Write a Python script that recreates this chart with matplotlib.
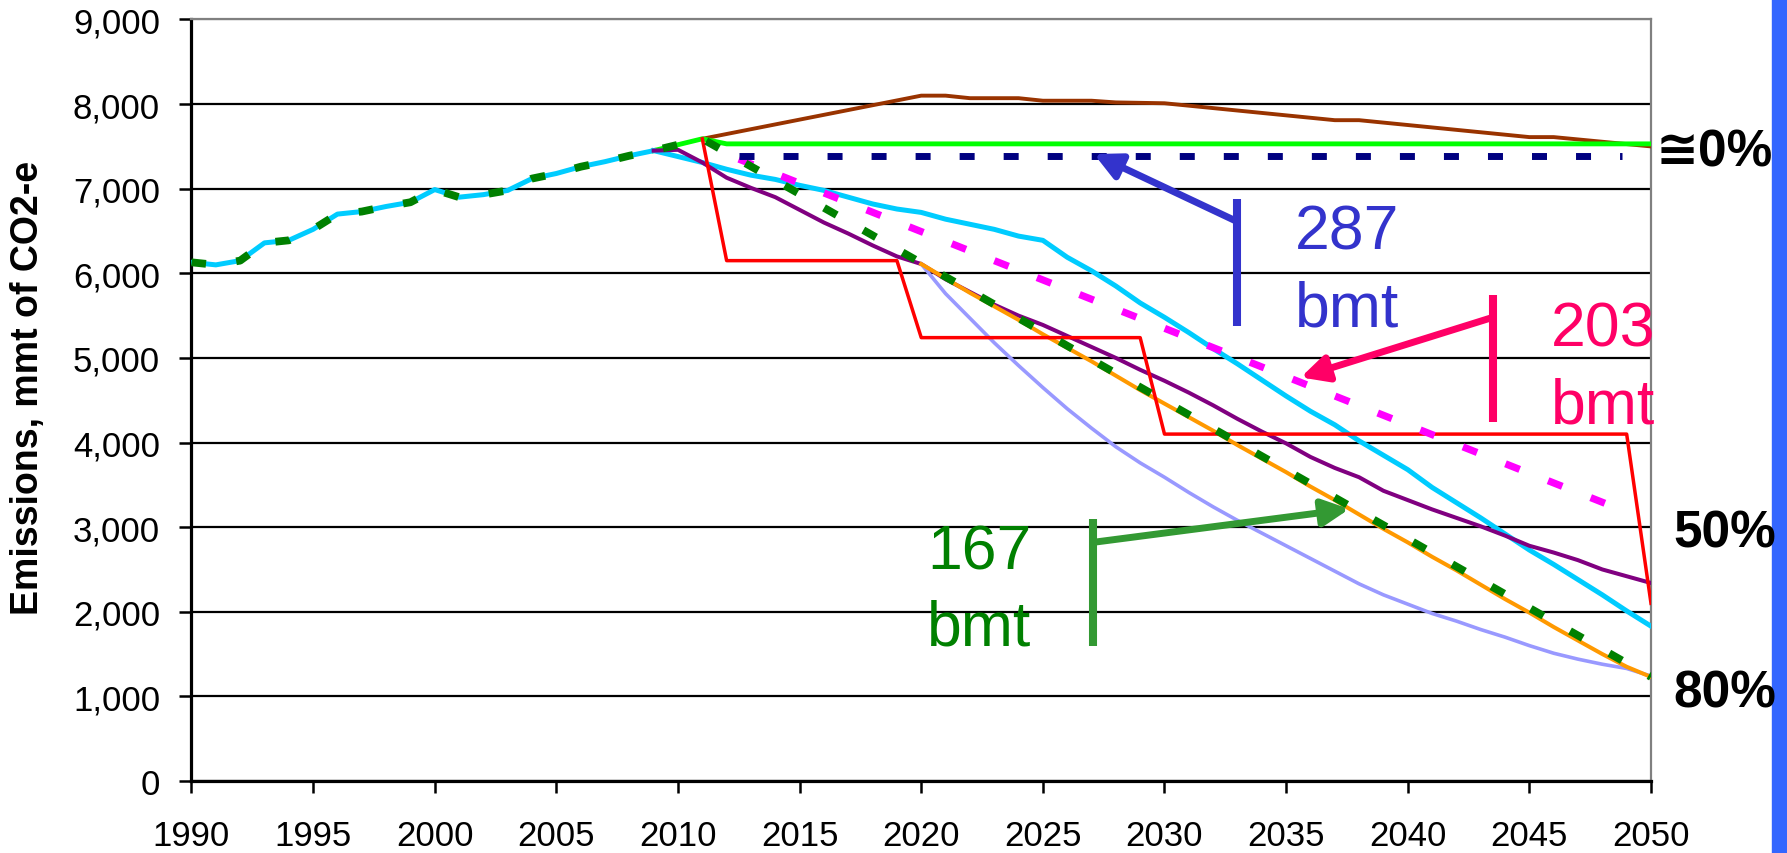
import matplotlib
matplotlib.use("Agg")
import matplotlib.pyplot as plt
from matplotlib.patches import Rectangle
from matplotlib.ticker import FuncFormatter

plt.rcParams['font.family'] = ['Liberation Sans', 'DejaVu Sans']
plt.rcParams['lines.scale_dashes'] = False

# ---------------- data ----------------
hist_years = [1990, 1991, 1992, 1993, 1994, 1995, 1996, 1997, 1998, 1999, 2000,
              2001, 2002, 2003, 2004, 2005, 2006, 2007, 2008, 2009, 2010, 2011]
hist_vals = [6130, 6100, 6150, 6360, 6390, 6520, 6700, 6730, 6790, 6840, 6990,
             6900, 6930, 6980, 7120, 7180, 7260, 7320, 7390, 7450, 7520, 7590]

proj_years = [2009, 2010, 2011, 2012, 2013, 2014, 2015, 2016, 2017, 2018, 2019,
              2020, 2021, 2022, 2023, 2024, 2025, 2026, 2027, 2028, 2029, 2030,
              2031, 2032, 2033, 2034, 2035, 2036, 2037, 2038, 2039, 2040, 2041,
              2042, 2043, 2044, 2045, 2046, 2047, 2048, 2049, 2050]
cyan_vals = [7450, 7380, 7310, 7230, 7160, 7110, 7040, 6980, 6900, 6820, 6760,
             6720, 6640, 6580, 6520, 6440, 6390, 6190, 6030, 5850, 5650, 5480,
             5300, 5110, 4930, 4740, 4550, 4370, 4210, 4020, 3850, 3680, 3470,
             3290, 3110, 2920, 2730, 2560, 2380, 2200, 2010, 1830]
purple_vals = [7450, 7460, 7310, 7130, 7010, 6900, 6750, 6600, 6470, 6330, 6200,
               6110, 5930, 5780, 5630, 5500, 5390, 5260, 5130, 5000, 4860, 4730,
               4590, 4440, 4280, 4130, 3990, 3830, 3700, 3590, 3430, 3320, 3210,
               3110, 3010, 2900, 2780, 2700, 2610, 2500, 2420, 2340]

late_years = [2020, 2021, 2022, 2023, 2024, 2025, 2026, 2027, 2028, 2029, 2030,
              2031, 2032, 2033, 2034, 2035, 2036, 2037, 2038, 2039, 2040, 2041,
              2042, 2043, 2044, 2045, 2046, 2047, 2048, 2049, 2050]
orange_vals = [6110, 5940, 5770, 5610, 5450, 5280, 5120, 4960, 4790, 4620, 4460,
               4300, 4140, 3970, 3810, 3650, 3480, 3320, 3150, 2980, 2820, 2650,
               2490, 2320, 2150, 1990, 1820, 1660, 1500, 1350, 1230]
lavender_vals = [6110, 5760, 5470, 5180, 4910, 4650, 4400, 4170, 3950, 3760, 3590,
                 3410, 3240, 3080, 2930, 2780, 2630, 2480, 2330, 2200, 2090, 1980,
                 1890, 1790, 1700, 1600, 1510, 1440, 1380, 1330, 1240]

brown_years = [2011, 2020, 2021, 2022, 2024, 2025, 2027, 2028, 2030, 2037, 2038,
               2045, 2046, 2050]
brown_vals = [7590, 8100, 8100, 8070, 8070, 8040, 8040, 8020, 8010, 7810, 7810,
              7610, 7610, 7500]

lime_years = [2009, 2010, 2011, 2012, 2050]
lime_vals = [7450, 7520, 7590, 7530, 7530]

navy_years = [2012.5, 2048.8]
navy_vals = [7390, 7390]

magenta_years = [2012.5, 2049]
magenta_vals = [7350, 3180]

red_years = [2011, 2012, 2019, 2020, 2029, 2030, 2049, 2050]
red_vals = [7590, 6150, 6150, 5240, 5240, 4100, 4100, 2100]

green_years = hist_years + [2050]
green_vals = hist_vals + [1230]

x_ticks = [1990, 1995, 2000, 2005, 2010, 2015, 2020, 2025, 2030, 2035, 2040, 2045, 2050]
y_ticks = [0, 1000, 2000, 3000, 4000, 5000, 6000, 7000, 8000, 9000]

# ---------------- figure ----------------
fig = plt.figure(figsize=(17.87, 8.54), dpi=100)
fig.patches.append(Rectangle((1771.5 / 1787, 0), 1 - 1771.5 / 1787, 1,
                             transform=fig.transFigure, color='#3366FF',
                             zorder=-5))
ax = fig.add_axes([0.10716, 0.08431, 0.81673, 0.89169])
ax.patch.set_alpha(0)

ax.plot(brown_years, brown_vals, color='#993300', lw=2.8, zorder=3)
ax.plot(lime_years, lime_vals, color='#00FF00', lw=3.5, zorder=3)
ax.plot(hist_years[:20], hist_vals[:20], color='#00CCFF', lw=3.6, zorder=3)
ax.plot(proj_years, cyan_vals, color='#00CCFF', lw=3.6, zorder=3)
ax.plot(proj_years, purple_vals, color='#800080', lw=2.9, zorder=4)
ax.plot(late_years, lavender_vals, color='#9999FF', lw=2.6, zorder=4)
ax.plot(late_years, orange_vals, color='#FF9900', lw=2.9, zorder=4)
ax.plot(red_years, red_vals, color='#FF0000', lw=2.5, zorder=5)
ax.plot(magenta_years, magenta_vals, color='#FF00FF', lw=5.2,
        linestyle=(0, (11, 22)), zorder=6)
ax.plot(navy_years, navy_vals, color='#000080', lw=5.0,
        linestyle=(0, (10.8, 20.9)), zorder=6)
ax.plot(green_years, green_vals, color='#008000', lw=5.6,
        linestyle=(0, (10.5, 22.0)), zorder=7)

ax.set_xlim(1990, 2050)
ax.set_ylim(0, 9000)
ax.set_xticks(x_ticks)
ax.set_yticks(y_ticks)
ax.yaxis.set_major_formatter(FuncFormatter(lambda v, p: f"{v:,.0f}"))
ax.grid(axis='y', color='black', lw=1.6, zorder=1)
ax.grid(axis='x', visible=False)
ax.set_axisbelow(True)
ax.get_ygridlines()[-1].set_color('#808080')

for s in ('left', 'bottom'):
    ax.spines[s].set_color('black')
    ax.spines[s].set_linewidth(2.3)
for s in ('right', 'top'):
    ax.spines[s].set_color('#808080')
    ax.spines[s].set_linewidth(1.6)

ax.tick_params(axis='both', direction='out', length=8.6, width=1.8,
               color='black', labelsize=25)
ax.tick_params(axis='x', pad=19)
ax.tick_params(axis='y', pad=14)

fig.text(28 / 1787, 0.546, 'Emissions, mmt of CO2-e', rotation=90,
         ha='center', va='center', fontsize=27, fontweight='bold')

# ---------------- annotations ----------------
def bracket(x, y0, y1, ys, xt, yt, color):
    ax.plot([x, x], [y0, y1], color=color, lw=5.8, solid_capstyle='butt',
            zorder=8, clip_on=False)
    ax.annotate('', xy=(xt, yt), xytext=(x, ys),
                arrowprops=dict(arrowstyle='-|>,head_length=0.8,head_width=0.4',
                                mutation_scale=20, lw=5, color=color,
                                shrinkA=0, shrinkB=0), zorder=8)

bracket(2033.0, 5380, 6880, 6610, 2027.1, 7410, '#3333CC')
bracket(2043.5, 4240, 5740, 5480, 2035.6, 4770, '#FF0066')
bracket(2027.05, 1600, 3100, 2820, 2037.6, 3215, '#339933')

def label2(x, y1, y2, t1, t2, color):
    ax.text(x, y1, t1, color=color, fontsize=45, ha='left', va='baseline', zorder=9)
    ax.text(x, y2, t2, color=color, fontsize=45, ha='left', va='baseline', zorder=9)

label2(2035.37, 6288, 5382, '287', 'bmt', '#3333CC')
label2(2045.89, 5145, 4240, '203', 'bmt', '#FF0066')
label2(2020.24, 2506, 1619, '167', 'bmt', '#008000')

ax.text(2050.2, 7270, '\u22450%', fontsize=37, fontweight='bold', ha='left',
        va='baseline', color='black', zorder=10)
ax.text(2050.9, 2766, '50%', fontsize=37, fontweight='bold', ha='left',
        va='baseline', color='black', zorder=10)
ax.text(2050.9, 886, '80%', fontsize=37, fontweight='bold', ha='left',
        va='baseline', color='black', zorder=10)

fig.savefig('out.png', dpi=100)
